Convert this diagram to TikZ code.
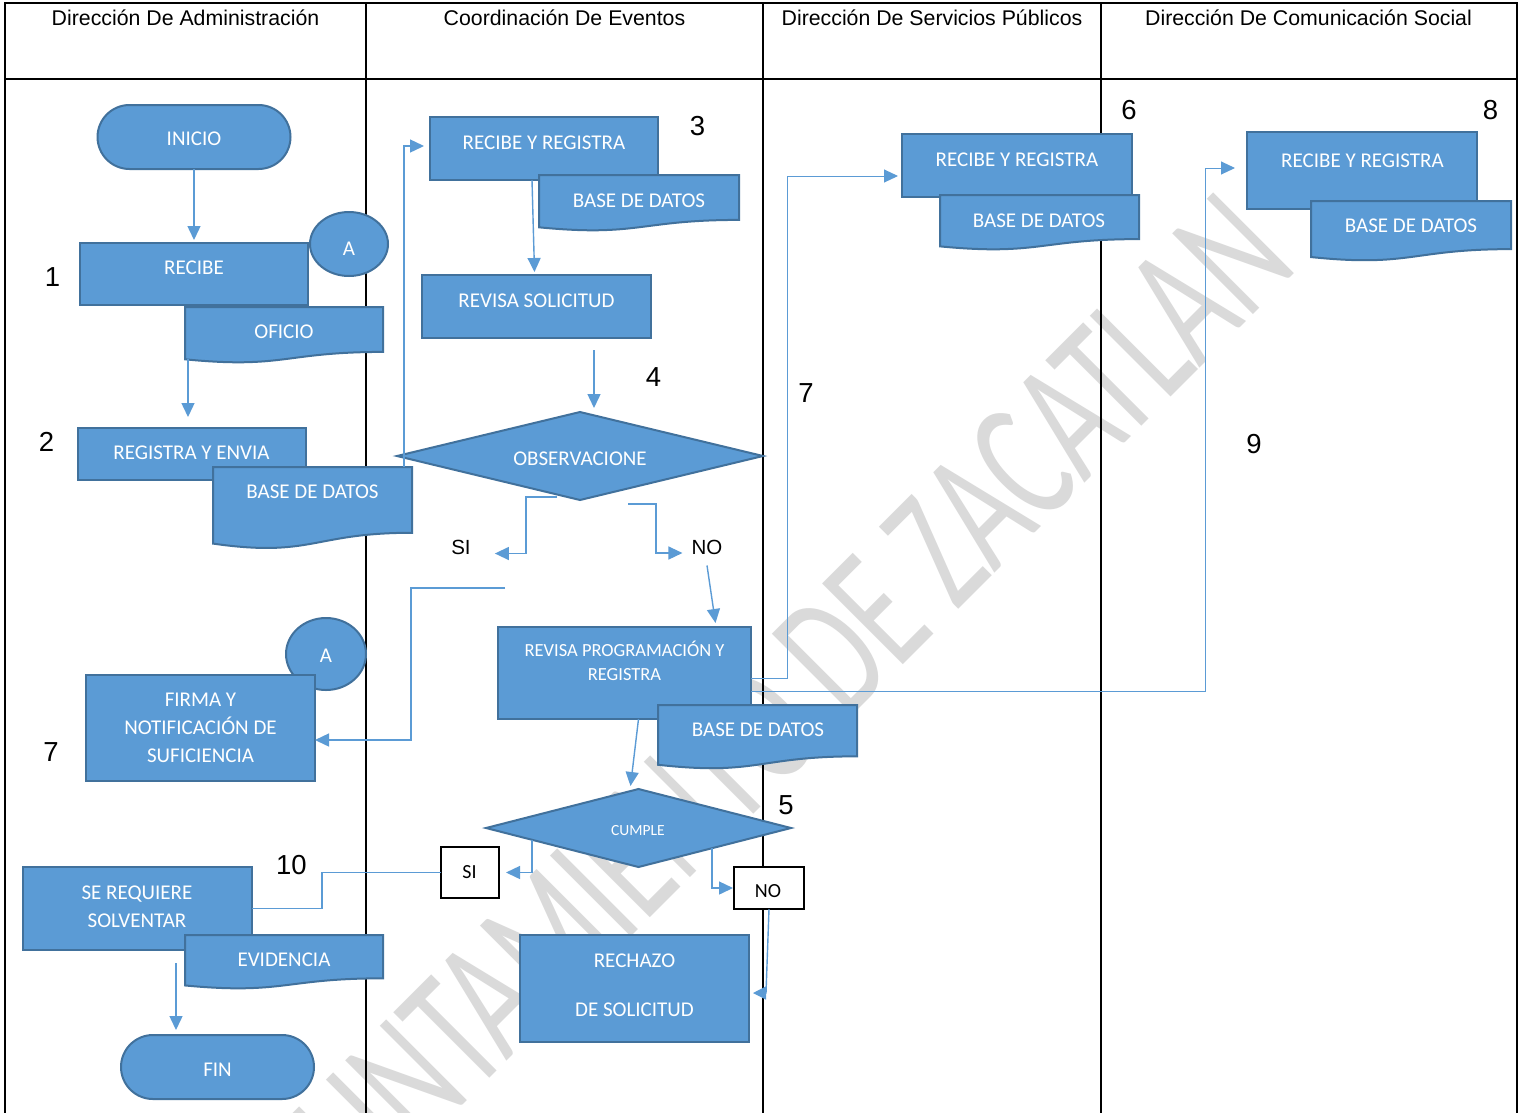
\documentclass[tikz,border=0pt]{standalone}
\usepackage{fontspec}
\usepackage{graphicx}
\setmainfont{Liberation Sans}
\newfontfamily\calfont{Carlito}
\usetikzlibrary{shapes.geometric,arrows.meta,calc}
\definecolor{boxfill}{HTML}{5B9BD5}
\definecolor{boxline}{HTML}{41719C}
\definecolor{connc}{HTML}{5B9BD5}
\definecolor{wmgray}{HTML}{DADADA}
\newcommand{\docbox}[5]{%
  \draw[shp] (#2,#3) -- (#4,#3) -- (#4,{#3+0.802*#5})
     .. controls ({(#2+#4)/2},{#3+0.802*#5}) and ({(#2+#4)/2},{#3+1.1075*#5}) .. (#2,{#3+0.934*#5}) -- cycle;
  \node[inner sep=0pt,outer sep=0pt,minimum width={#4-#2},minimum height={0.934*#5}] (#1) at ({(#2+#4)/2},{#3+0.467*#5}) {};
}
\newcommand{\rbox}[6][shp]{\node[#1,rectangle,minimum width={#5-#3},minimum height={#6-#4}] (#2) at ({(#3+#5)/2},{(#4+#6)/2}) {};}
\begin{document}
\begin{tikzpicture}[x=1pt,y=-1pt,
  lane/.style={line width=2pt,black},
  shp/.style={draw=boxline,fill=boxfill,line width=2pt,inner sep=0pt,outer sep=0pt},
  wbox/.style={draw=black,fill=white,line width=2pt,inner sep=0pt,outer sep=0pt},
  conn/.style={draw=connc,line width=1.4pt},
  arr/.style={conn,-{Triangle[length=14pt,width=13pt]}},
  thinarr/.style={draw=connc,line width=1pt,-{Triangle[length=14pt,width=13pt]}},
  btxt/.style={text=white,inner sep=0pt,align=center,font=\calfont\fontsize{21}{28}\selectfont,text height=13.5pt},
  mtxt/.style={text=white,inner sep=0pt,align=center,font=\calfont\fontsize{21}{28}\selectfont},
  ktxt/.style={text=black,inner sep=0pt,font=\calfont\fontsize{20}{24}\selectfont},
  hdr/.style={anchor=base,inner sep=0pt,font=\fontsize{21.3}{24}\selectfont},
  num/.style={inner sep=0pt,font=\fontsize{27.5}{30}\selectfont},
  lbl/.style={inner sep=0pt,font=\fontsize{20.5}{24}\selectfont},
]
\useasboundingbox (0,0) rectangle (1525,1112);
\fill[white] (0,0) rectangle (1525,1112);

% watermark
\node[rotate=45,anchor=base east,inner sep=0pt,text=wmgray] (wm) at (1300,268)
  {\scalebox{0.65}[1]{\calfont\fontsize{178}{178}\selectfont AYUNTAMIENTO DE ZACATLAN}};

% lanes
\draw[lane] (5,1116) -- (5,3) -- (1517,3) -- (1517,1116);
\draw[lane] (5,79) -- (1517,79);
\draw[lane] (366,3) -- (366,1116);
\draw[lane] (763,3) -- (763,1116);
\draw[lane] (1101,3) -- (1101,1116);

\node[hdr] (h1) at (185.5,25) {Dirección De Administración};
\node[hdr] (h2) at (564.5,25) {Coordinación De Eventos};
\node[hdr] (h3) at (932,25) {Dirección De Servicios Públicos};
\node[hdr] (h4) at (1308.5,25) {Dirección De Comunicación Social};

% labels
\node[lbl] (si1) at (461,547.5) {SI};
\node[lbl] (no1) at (707,547) {NO};
\coordinate (siend) at (505,588);

% shapes
\node[shp,rectangle,rounded corners=32pt,minimum width=193,minimum height=64] (inicio) at (194,137) {};
\node[shp,ellipse,minimum width=78,minimum height=64] (a1) at (349,244) {};
\rbox{recibe}{80}{243}{308}{305}
\docbox{oficio}{185}{307}{383}{56}
\rbox{regenv}{78}{428}{306}{480}
\docbox{bd1}{213}{467}{412}{82}

\rbox{rr1}{430}{117}{658}{180}
\docbox{bd2}{539}{175}{739}{56}
\rbox{rs}{422}{275}{651}{338}
\node[shp,diamond,minimum width=366,minimum height=88] (obs) at (580,456) {};
\rbox{rp}{498}{627}{751}{719}
\docbox{bd3}{658}{705}{857}{64}
\node[shp,diamond,minimum width=305,minimum height=78] (cumple) at (638.5,828) {};
\rbox[wbox]{sib}{441}{847}{499}{898}
\rbox[wbox]{nob}{734}{867}{804}{909}
\rbox{rech}{520}{935}{749}{1042}

\node[shp,ellipse,minimum width=80,minimum height=72] (a2) at (326,654) {};
\rbox{firma}{86}{675}{315}{781}
\rbox{sr}{23}{867}{252}{950}
\docbox{ev}{185}{935}{383}{54}
\node[shp,rectangle,rounded corners=32pt,minimum width=193,minimum height=64] (fin) at (217.5,1067) {};

\rbox{rrS}{902}{134}{1132}{197}
\docbox{bd4}{940}{195}{1139}{55}
\rbox{rrC}{1247}{132}{1477}{209}
\docbox{bd5}{1311}{201}{1511}{60}

% connectors
\draw[arr] (inicio.south) -- ([yshift=3pt]recibe.north);
\draw[arr] ([xshift=3pt]oficio.south west) -- ([xshift=-4pt,yshift=11pt]regenv.north);
\draw[arr] ([xshift=-8pt]bd1.north east) |- ([xshift=-6pt,yshift=2.5pt]rr1.west);
\draw[arr] ([xshift=-12pt]rr1.south) -- ([xshift=-2pt,yshift=3pt]rs.north);
\draw[arr] ([xshift=57.5pt,yshift=-12pt]rs.south) -- ([xshift=14pt,yshift=4pt]obs.north);
\draw[arr] ([xshift=-23pt,yshift=3pt]obs.south) -- ++(-31,0) |- ([xshift=24pt,yshift=-6pt]si1.east);
\draw[arr] ([xshift=48pt,yshift=-4pt]obs.south) -- ++(28,0) |- ([xshift=-9pt,yshift=-6pt]no1.west);
\draw[arr] (siend) -- ++(-94,0) |- ([yshift=-12pt]firma.east);
\draw[arr] ([yshift=-11pt]no1.south) -- ([xshift=91pt,yshift=4pt]rp.north);
\draw[arr] ([xshift=14pt]rp.south) -- ([xshift=-8pt,yshift=3pt]cumple.north);
\draw[arr] ([xshift=-106.5pt,yshift=-12pt]cumple.center) |- ([xshift=7pt]sib.east);
\draw[arr] ([xshift=73.5pt,yshift=-20pt]cumple.center) |- ([xshift=-1pt]nob.west);
\draw[conn,-{Triangle[length=13pt,width=13pt]}] (nob.south) -- ([xshift=17pt,yshift=-4.5pt]rech.east) -- ([xshift=4pt,yshift=-4.5pt]rech.east);
\draw[conn] (sib.west) -- ++(-119,0) |- (sr.east);
\draw[arr] ([xshift=38.5pt,yshift=-13pt]sr.south) -- ([xshift=-41.5pt,yshift=5pt]fin.north);
\draw[thinarr] ([yshift=-5pt]rp.east) -- ++(36,0) |- ([xshift=-4pt,yshift=-10.5pt]rrS.west);
\draw[thinarr] ([yshift=-18pt]rp.east) -- ++(454,0) |- ([xshift=-12pt,yshift=2.5pt]rrC.west);

% texts in shapes
\node[btxt] (t-inicio) at (194,139) {INICIO};
\node[btxt] (t-a1) at (349,249) {A};
\node[btxt] (t-recibe) at (194,268) {RECIBE};
\node[btxt] (t-oficio) at (284,332) {OFICIO};
\node[btxt] (t-regenv) at (191.5,452.5) {REGISTRA Y ENVIA};
\node[btxt] (t-bd1) at (312.5,492) {BASE DE DATOS};
\node[btxt] (t-rr1) at (544,142.5) {RECIBE Y REGISTRA};
\node[btxt] (t-bd2) at (639,200.5) {BASE DE DATOS};
\node[btxt] (t-rs) at (536.5,300.5) {REVISA SOLICITUD};
\node[btxt] (t-obs) at (580,458.5) {OBSERVACIONE};
\node[mtxt,font=\calfont\fontsize{18.5}{23.5}\selectfont] (t-rp) at (624.5,661) {REVISA PROGRAMACIÓN Y\\REGISTRA};
\node[btxt] (t-bd3) at (758,729.5) {BASE DE DATOS};
\node[text=white,inner sep=0pt,font=\calfont\fontsize{15.5}{18}\selectfont] (t-cumple) at (638,831) {CUMPLE};
\node[ktxt] (t-sib) at (469.5,872) {SI};
\node[ktxt] (t-nob) at (768,891.5) {NO};
\node[mtxt,font=\calfont\fontsize{21}{49.5}\selectfont] (t-rech) at (634.5,985) {RECHAZO\\DE SOLICITUD};
\node[btxt] (t-a2) at (326,655.5) {A};
\node[mtxt] (t-firma) at (200.5,728) {FIRMA Y\\NOTIFICACIÓN DE\\SUFICIENCIA};
\node[mtxt] (t-sr) at (137,906.5) {SE REQUIERE\\SOLVENTAR};
\node[btxt] (t-ev) at (284,959.5) {EVIDENCIA};
\node[btxt] (t-fin) at (217.5,1070) {FIN};
\node[btxt] (t-rrS) at (1017,160) {RECIBE Y REGISTRA};
\node[btxt] (t-bd4) at (1039,221) {BASE DE DATOS};
\node[btxt] (t-rrC) at (1362.5,160.5) {RECIBE Y REGISTRA};
\node[btxt] (t-bd5) at (1411,226) {BASE DE DATOS};

% step numbers
\node[num] (n1) at (52.5,277) {1};
\node[num] (n2) at (46.5,442) {2};
\node[num] (n3) at (697.5,126) {3};
\node[num] (n4) at (653.5,377) {4};
\node[num] (n5) at (786,805) {5};
\node[num] (n6) at (1129,110) {6};
\node[num] (n7a) at (806,393) {7};
\node[num] (n7b) at (51,752) {7};
\node[num] (n8) at (1490.5,110) {8};
\node[num] (n9) at (1254,444) {9};
\node[num] (n10) at (291.5,865) {10};
\end{tikzpicture}
\end{document}
